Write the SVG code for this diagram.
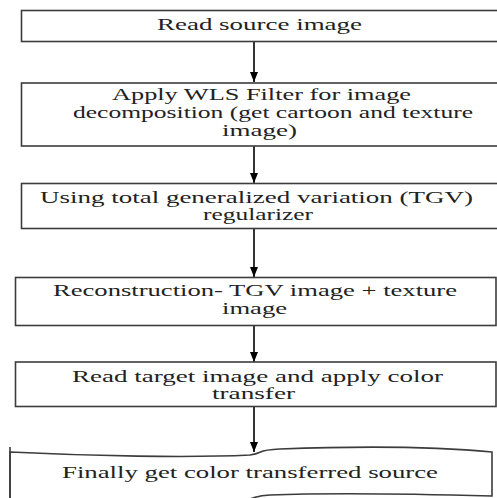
<svg xmlns="http://www.w3.org/2000/svg" width="497" height="498" viewBox="0 0 497 498">
<style>
.box{fill:#fff;stroke:#3c3c3c;stroke-width:1.6}
.t{font-family:"Liberation Serif","Times New Roman",serif;font-size:16px;fill:#222}
.c{stroke:#000;stroke-width:1.6;fill:none}
</style>
<defs>
<marker id="ah" viewBox="0 0 10 8" refX="10" refY="4" markerWidth="10" markerHeight="8" markerUnits="userSpaceOnUse" orient="auto">
<path d="M0,0 L10,4 L0,8 Z" fill="#000"/>
</marker>
</defs>
<rect width="497" height="498" fill="#fff"/>
<g id="connectors">
<line class="c" x1="254" y1="41" x2="254" y2="82" marker-end="url(#ah)"/>
<line class="c" x1="254" y1="146" x2="254" y2="183" marker-end="url(#ah)"/>
<line class="c" x1="254" y1="228" x2="254" y2="277" marker-end="url(#ah)"/>
<line class="c" x1="254" y1="325" x2="254" y2="362" marker-end="url(#ah)"/>
<line class="c" x1="254" y1="406" x2="254" y2="452" marker-end="url(#ah)"/>
</g>
<g id="n1">
<rect class="box" x="21.5" y="10.5" width="490" height="31"/>
<text class="t" x="157" y="30" textLength="205" lengthAdjust="spacingAndGlyphs">Read source image</text>
</g>
<g id="n2">
<rect class="box" x="21.5" y="83" width="490" height="63"/>
<text class="t" x="112" y="100" textLength="299" lengthAdjust="spacingAndGlyphs">Apply WLS Filter for image</text>
<text class="t" x="73" y="118" textLength="400" lengthAdjust="spacingAndGlyphs">decomposition (get cartoon and texture</text>
<text class="t" x="222" y="136" textLength="75" lengthAdjust="spacingAndGlyphs">image)</text>
</g>
<g id="n3">
<rect class="box" x="21.5" y="183.5" width="490" height="45"/>
<text class="t" x="40" y="203" textLength="433" lengthAdjust="spacingAndGlyphs">Using total generalized variation (TGV)</text>
<text class="t" x="203" y="220" textLength="110" lengthAdjust="spacingAndGlyphs">regularizer</text>
</g>
<g id="n4">
<rect class="box" x="15.5" y="277.5" width="480.5" height="48"/>
<text class="t" x="53" y="296" textLength="404" lengthAdjust="spacingAndGlyphs">Reconstruction- TGV image + texture</text>
<text class="t" x="222" y="314" textLength="65" lengthAdjust="spacingAndGlyphs">image</text>
</g>
<g id="n5">
<rect class="box" x="15.5" y="362" width="480.5" height="44.5"/>
<text class="t" x="72" y="382" textLength="371" lengthAdjust="spacingAndGlyphs">Read target image and apply color</text>
<text class="t" x="212" y="399" textLength="83" lengthAdjust="spacingAndGlyphs">transfer</text>
</g>
<g id="n6">
<path class="box" d="M10,452 C90,456 190,458 250,455 C265,453 255,450 280,449 C360,446 440,447 492,452 L492,496 C420,494 320,493 270,495 C255,496 250,499 240,503 L10,503 Z"/>
<line x1="10" y1="447" x2="10" y2="498" stroke="#3c3c3c" stroke-width="1.6"/>
<text class="t" x="62" y="478" textLength="376" lengthAdjust="spacingAndGlyphs">Finally get color transferred source</text>
</g>
</svg>
